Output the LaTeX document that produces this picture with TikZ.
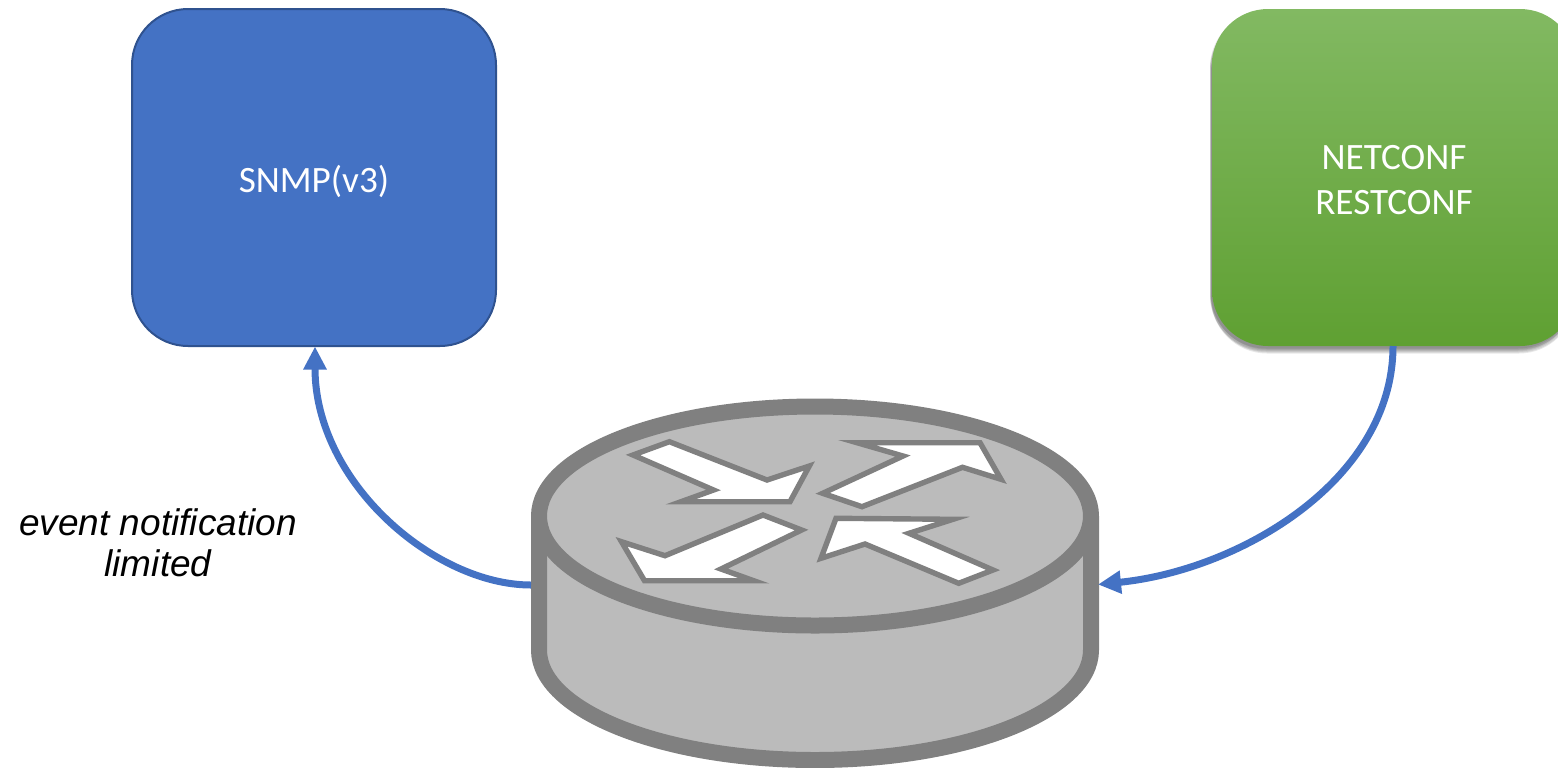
\documentclass[tikz,border=0pt]{standalone}
\usepackage{fontspec}
\setmainfont{Carlito}
\newfontfamily\arialfont{Liberation Sans}
\usetikzlibrary{arrows.meta}
\definecolor{boxblue}{HTML}{4472C4}
\definecolor{boxedge}{HTML}{2F528F}
\definecolor{rimgrey}{HTML}{808080}
\definecolor{bodygrey}{HTML}{BBBBBB}
\tikzset{
  px/.style={x=0.5pt,y=-0.5pt},
  boxshape/.style={rounded corners=28pt,minimum width=182pt,minimum height=168.5pt,inner sep=0pt,align=center,text=white,font=\fontsize{18.6}{22.5}\selectfont},
  rim/.style={draw=rimgrey,line width=8pt,fill=bodygrey,line join=round},
  flowarrow/.style={draw=boxblue,line width=3.5pt,-{Triangle[length=11.5pt,width=11pt,sep=0pt]}},
  arrowglyph/.style={draw=rimgrey,fill=white,line width=2.7pt,miter limit=10},
  shadowlayer/.style={rounded corners=28pt,minimum width=182pt,minimum height=168.5pt,inner sep=0pt,fill=black,fill opacity=0.09},
  caption/.style={font=\arialfont\itshape\fontsize{18.5}{20.5}\selectfont,align=center,inner sep=0pt}
}
\begin{document}
\begin{tikzpicture}[px]
\useasboundingbox (0,0) rectangle (1558,767);
\clip (0,0) rectangle (1558,767);
% boxes
\node[boxshape,fill=boxblue,draw=boxedge,line width=1pt] (snmp) at (314,177.5) {\raisebox{-2pt}[\height][\depth]{SNMP(v3)}};
\node[shadowlayer] at (1393,185) {};
\node[shadowlayer] at (1393,184) {};
\node[shadowlayer] at (1392,183) {};
\node[shadowlayer] at (1392,182) {};
\node[shadowlayer] at (1393,181) {};
\node[shadowlayer] at (1392,180) {};
\node[boxshape,top color={rgb,255:red,130;green,185;blue,98},middle color={rgb,255:red,112;green,173;blue,67},bottom color={rgb,255:red,95;green,160;blue,50}] (netconf) at (1394,177.5) {\raisebox{-1.5pt}[\height][\depth]{NETCONF}\\\raisebox{-1.5pt}[\height][\depth]{RESTCONF}};
% router
\draw[rim] (539,516) -- (539,650) arc[start angle=180,end angle=0,x radius=276,y radius=110] -- (1091,516);
\draw[rim] (815,516) ellipse[x radius=276,y radius=109.5];
\node[inner sep=0pt,minimum width=284pt,minimum height=184pt] (router) at (815,583) {};
% router arrow glyphs
\draw[arrowglyph] (633,455) -- (669.4,441.7) -- (767,480) -- (809.3,466) -- (790,501.7) -- (681,501.7) -- (713.5,490) -- cycle;
\draw[arrowglyph] (822.7,493.3) -- (903,456) -- (857,442.7) -- (980,442.7) -- (1001,479.3) -- (962.5,467.3) -- (862,506.7) -- cycle;
\draw[arrowglyph] (763,515) -- (801.6,530) -- (721,569) -- (753.7,580.7) -- (644.5,580.7) -- (621.5,541.7) -- (665,555.7) -- cycle;
\draw[arrowglyph] (836,518.3) -- (953,519.3) -- (909,533.3) -- (993,570) -- (958.7,583.3) -- (865,544) -- (821,558.3) -- cycle;
% connectors
\coordinate (snmpin) at (315,346.5);
\coordinate (routerout) at (531,585);
\coordinate (netconfout) at (1393,346);
\coordinate (routerin) at (1098,584.5);
\draw[flowarrow] (routerout) .. controls (435,585) and (315,483) .. (snmpin);
\draw[flowarrow] (netconfout) .. controls (1393,480) and (1240,570) .. (routerin);
% label
\node[caption] (label) at (158,543) {event notification\\limited};
\end{tikzpicture}
\end{document}
